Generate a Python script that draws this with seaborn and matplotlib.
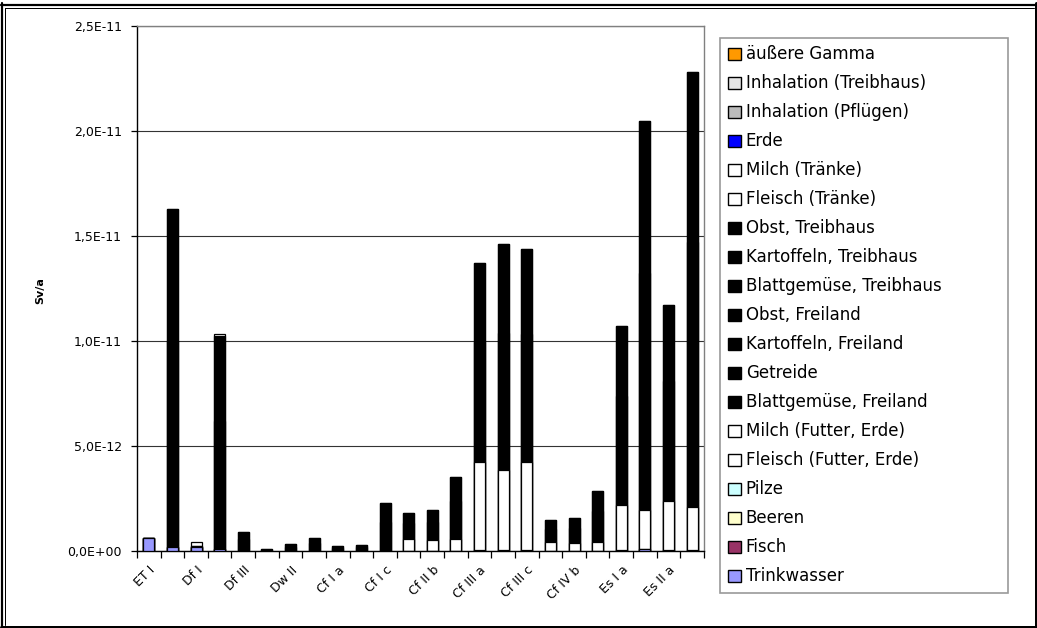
import numpy as np
import pandas as pd
import matplotlib
matplotlib.use("Agg")
import matplotlib.pyplot as plt
from matplotlib.patches import Patch
from matplotlib.lines import Line2D
from matplotlib.ticker import FuncFormatter
import seaborn as sns

# ---------------- data (values in Sv/a) ----------------
categories = ["ET I", "ET II", "Df I", "Df II", "Df III", "Dw I", "Dw II", "Dw III",
              "Cf I a", "Cf I b", "Cf I c", "Cf II a", "Cf II b", "Cf II c",
              "Cf III a", "Cf III b", "Cf III c", "Cf IV a", "Cf IV b", "Cf IV c",
              "Es I a", "Es I b", "Es II a", "Es II b"]

E = 1e-12
trinkwasser = [0.62, 0.20, 0.20, 0.10, 0, 0, 0, 0, 0, 0, 0, 0, 0, 0, 0, 0, 0, 0, 0, 0, 0, 0.08, 0, 0]
fisch = [0] * 24
beeren = [0] * 24
pilze = [0] * 24
fleisch_futter = [0, 0, 0, 0, 0, 0, 0, 0, 0, 0, 0, 0.02, 0.02, 0.02, 0.04, 0.03, 0.04, 0.02, 0.02, 0.02, 0.03, 0.02, 0.03, 0.03]
milch_futter = [0, 0, 0, 0, 0, 0, 0, 0, 0, 0, 0, 0.55, 0.50, 0.55, 4.20, 3.83, 4.20, 0.41, 0.36, 0.41, 2.16, 1.85, 2.35, 2.07]
blattgemuese_frei = [0, 9.8, 0.03, 6.1, 0.55, 0.06, 0.20, 0.38, 0.15, 0.17, 1.40, 0.75, 0.87, 1.80, 5.70, 6.50, 6.10, 0.64, 0.72, 1.48, 5.20, 11.3, 5.70, 12.6]
getreide = [0, 6.3, 0.02, 4.05, 0.35, 0.04, 0.15, 0.24, 0.10, 0.11, 0.88, 0.48, 0.56, 1.15, 3.76, 4.24, 4.06, 0.41, 0.47, 0.95, 3.31, 7.25, 3.62, 8.10]
kartoffeln_frei = [0] * 24
obst_frei = [0] * 24
blattgemuese_treib = [0] * 24
kartoffeln_treib = [0] * 24
obst_treib = [0] * 24
fleisch_traenke = [0] * 24
milch_traenke = [0, 0, 0.18, 0.08, 0, 0, 0, 0, 0, 0, 0, 0, 0, 0, 0, 0, 0, 0, 0, 0, 0, 0, 0, 0]
erde = [0] * 24
inhalation_pfluegen = [0] * 24
inhalation_treib = [0] * 24
aeussere_gamma = [0] * 24

# stacking order: bottom -> top
series = [
    ("Trinkwasser", trinkwasser, "#9999FF"),
    ("Fisch", fisch, "#993366"),
    ("Beeren", beeren, "#FFFFCC"),
    ("Pilze", pilze, "#CCFFFF"),
    ("Fleisch (Futter, Erde)", fleisch_futter, "#FFFFFF"),
    ("Milch (Futter, Erde)", milch_futter, "#FFFFFF"),
    ("Blattgemüse, Freiland", blattgemuese_frei, "#000000"),
    ("Getreide", getreide, "#000000"),
    ("Kartoffeln, Freiland", kartoffeln_frei, "#000000"),
    ("Obst, Freiland", obst_frei, "#000000"),
    ("Blattgemüse, Treibhaus", blattgemuese_treib, "#000000"),
    ("Kartoffeln, Treibhaus", kartoffeln_treib, "#000000"),
    ("Obst, Treibhaus", obst_treib, "#000000"),
    ("Fleisch (Tränke)", fleisch_traenke, "#FFFFFF"),
    ("Milch (Tränke)", milch_traenke, "#FFFFFF"),
    ("Erde", erde, "#0000FF"),
    ("Inhalation (Pflügen)", inhalation_pfluegen, "#BBBBBB"),
    ("Inhalation (Treibhaus)", inhalation_treib, "#E6E6E6"),
    ("äußere Gamma", aeussere_gamma, "#FF9900"),
]

# ---------------- figure ----------------
W, H = 1037, 628
sns.set_theme(style="white")
plt.rcParams["font.family"] = ["DejaVu Sans"]
plt.rcParams["text.color"] = "black"
plt.rcParams["axes.labelcolor"] = "black"
plt.rcParams["xtick.color"] = "black"
plt.rcParams["ytick.color"] = "black"
fig = plt.figure(figsize=(W / 100, H / 100), dpi=100)
ax = fig.add_axes([137 / W, 1 - 551 / H, (704 - 137) / W, (551 - 26) / H])

df = pd.DataFrame({name: np.array(vals) * E for name, vals, _ in series}, index=categories)
cum = df.cumsum(axis=1)

# draw cumulative bars from the top series down, so lower segments overlay
for name, vals, color in reversed(series):
    if sum(vals) == 0:
        continue
    sns.barplot(x=categories, y=cum[name].values, color=color, saturation=1,
                edgecolor="black", linewidth=0.9, width=0.47, errorbar=None,
                ax=ax, zorder=3)

ax.set_xlim(-0.5, len(categories) - 0.5)
ax.set_ylim(0, 2.5e-11)
ax.set_yticks(np.arange(0, 2.51e-11, 5e-12))
ax.yaxis.set_major_formatter(FuncFormatter(lambda v, p: f"{v:.1E}".replace(".", ",")))
ax.grid(axis="y", color="#333333", linewidth=0.8, zorder=0)
ax.set_axisbelow(True)

ax.set_xticks(range(len(categories)))
ax.set_xticklabels([c if i % 2 == 0 else "" for i, c in enumerate(categories)],
                   rotation=45, ha="right", rotation_mode="anchor", fontsize=9)
ax.set_xticks(np.arange(-0.5, len(categories), 1), minor=True)
ax.tick_params(axis="x", which="major", length=0, pad=9)
ax.tick_params(axis="x", which="minor", length=5, width=0.9, color="black", direction="out", bottom=True)
ax.tick_params(axis="y", length=4, width=0.9, color="black", direction="out", left=True,
               labelsize=9, pad=7)

for s in ("top", "right"):
    ax.spines[s].set_color("#808080")
    ax.spines[s].set_linewidth(1.0)
for s in ("left", "bottom"):
    ax.spines[s].set_color("black")
    ax.spines[s].set_linewidth(1.0)

ax.set_xlabel("")
ax.set_ylabel("Sv/a", fontsize=8, fontweight="bold")
ax.yaxis.set_label_coords(-(137 - 45) / (704 - 137), 0.497)

# legend (reverse order like the original)
handles = [Patch(facecolor=c, edgecolor="black", linewidth=1.0) for _, _, c in reversed(series)]
labels = [n for n, _, _ in reversed(series)]
leg = fig.legend(handles, labels, loc="upper left",
                 bbox_to_anchor=(720 / W, 1 - 38 / H, (1008 - 720) / W, 0.0001), mode="expand",
                 fontsize=12, frameon=True, fancybox=False, edgecolor="#808080",
                 handlelength=0.8, handleheight=0.75, handletextpad=0.3,
                 labelspacing=0.66, borderpad=0.45, borderaxespad=0, labelcolor="black")
leg.get_frame().set_linewidth(1.2)

# outer double frame
def fx(x):
    return x / W

def fy(y):
    return 1 - y / H

frame_lines = [
    ((1, 1036), (4.5, 4.5), 2.2),
    ((4.5, 1034), (8, 8), 1.0),
    ((1.5, 1.5), (3, 628), 2.2),
    ((5, 5), (7.5, 625), 1.0),
    ((1035.5, 1035.5), (3, 628), 3.0),
    ((1, 1037), (626.5, 626.5), 3.0),
]
for xs, ys, lw in frame_lines:
    fig.add_artist(Line2D([fx(xs[0]), fx(xs[1])], [fy(ys[0]), fy(ys[1])],
                          transform=fig.transFigure, color="black", linewidth=lw * 0.72))

fig.savefig("out.png", dpi=100)
